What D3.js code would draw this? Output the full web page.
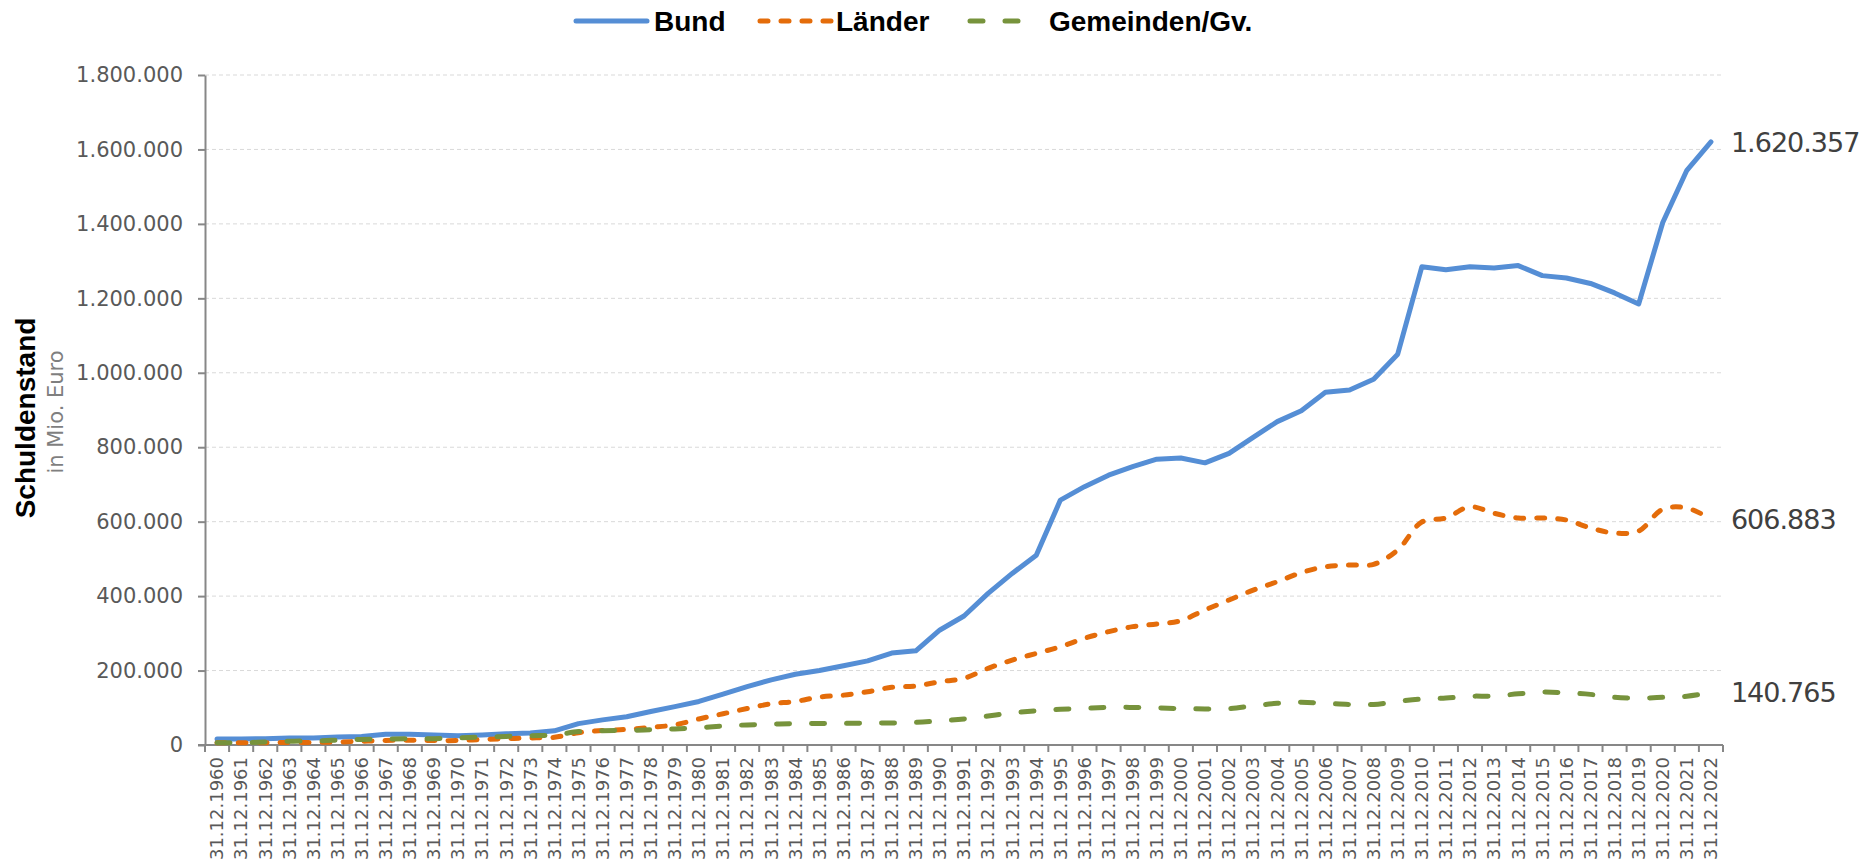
<!DOCTYPE html>
<html>
<head>
<meta charset="utf-8">
<script src="https://cdn.jsdelivr.net/npm/d3@7"></script>
<style>
  html, body { margin: 0; padding: 0; background: #fff; }
  svg { display: block; }
</style>
</head>
<body>
<svg id="chart"></svg>
<script>
  // Schuldenstand in Mio. Euro, jeweils zum 31.12.
  const categories = [
    '31.12.1960', '31.12.1961', '31.12.1962', '31.12.1963', '31.12.1964', '31.12.1965', '31.12.1966', '31.12.1967', '31.12.1968', '31.12.1969',
    '31.12.1970', '31.12.1971', '31.12.1972', '31.12.1973', '31.12.1974', '31.12.1975', '31.12.1976', '31.12.1977', '31.12.1978', '31.12.1979',
    '31.12.1980', '31.12.1981', '31.12.1982', '31.12.1983', '31.12.1984', '31.12.1985', '31.12.1986', '31.12.1987', '31.12.1988', '31.12.1989',
    '31.12.1990', '31.12.1991', '31.12.1992', '31.12.1993', '31.12.1994', '31.12.1995', '31.12.1996', '31.12.1997', '31.12.1998', '31.12.1999',
    '31.12.2000', '31.12.2001', '31.12.2002', '31.12.2003', '31.12.2004', '31.12.2005', '31.12.2006', '31.12.2007', '31.12.2008', '31.12.2009',
    '31.12.2010', '31.12.2011', '31.12.2012', '31.12.2013', '31.12.2014', '31.12.2015', '31.12.2016', '31.12.2017', '31.12.2018', '31.12.2019',
    '31.12.2020', '31.12.2021', '31.12.2022'
  ]

  const bund = [
    16000, 16000, 17000, 19000, 19000, 21500, 23000, 29000, 29000, 27000,
    25000, 27000, 30000, 32000, 38000, 57500, 67500, 76000, 90000, 103000,
    117000, 136600, 157000, 175000, 190000, 200000, 213000, 226000, 247000, 253000,
    309000, 346600, 407500, 461000, 510000, 658000, 694000, 725000, 748000, 768000,
    771000, 758000, 783600, 826600, 868700, 898000, 947500, 953700, 982500, 1050000,
    1284700, 1277000, 1284700, 1281500, 1288000, 1261000, 1254600, 1240000, 1214600, 1185000,
    1403700, 1544000, 1620357
  ]

  const laender = [
    6000, 6000, 6000, 7000, 7000, 8000, 10000, 12000, 13000, 12000,
    12000, 15000, 17000, 19000, 20600, 33000, 39000, 42000, 47500, 54000,
    70000, 84000, 98000, 111000, 117000, 129000, 134000, 143000, 155000, 158500,
    170000, 179000, 206000, 228000, 246000, 264000, 286600, 304500, 318000, 325000,
    334000, 362700, 389600, 416000, 438700, 463000, 479000, 483600, 485500, 524000,
    599000, 610000, 640000, 622500, 610000, 610000, 604500, 583000, 569500, 575000,
    633500, 636700, 606883
  ]

  const gemeinden = [
    6000, 6000, 8000, 10000, 11000, 13000, 15000, 16000, 17000, 17000,
    19000, 21500, 23000, 25000, 27000, 36000, 38500, 39000, 41000, 43000,
    46600, 51000, 54000, 56000, 57500, 57500, 58000, 59000, 59000, 61000,
    65000, 70000, 78000, 86000, 92000, 96000, 98500, 101000, 101000, 100000,
    97600, 97000, 97600, 105000, 112000, 114600, 112000, 109000, 109000, 117000,
    123600, 126000, 131000, 131500, 137500, 142000, 140000, 136000, 128000, 126000,
    128000, 131000, 140765
  ]

  const yTicks = [0, 200000, 400000, 600000, 800000, 1000000, 1200000, 1400000, 1600000, 1800000]

  const series = [
    { name: 'Bund', values: bund, color: '#558ed5', dash: null, curve: d3.curveLinear },
    { name: 'Länder', values: laender, color: '#e46c0a', dash: '8,13', curve: d3.curveCatmullRom },
    { name: 'Gemeinden/Gv.', values: gemeinden, color: '#77933c', dash: '13,22', curve: d3.curveCatmullRom }
  ]

  const width = 1872
  const height = 866
  const margin = { top: 75, right: 149, bottom: 121, left: 205 }

  const de = d3.formatLocale({ decimal: ',', thousands: '.', grouping: [3], currency: ['', ' €'] })
  const fmt = de.format(',d')

  const svg = d3.select('#chart')
    .attr('width', width)
    .attr('height', height)
    .attr('viewBox', [0, 0, width, height])

  const x = d3.scaleBand()
    .domain(categories)
    .range([margin.left, width - margin.right])
    .padding(0)

  const y = d3.scaleLinear()
    .domain([0, 1800000])
    .range([height - margin.bottom, margin.top])

  // grid
  svg.append('g')
    .selectAll('line')
    .data(yTicks.filter(d => d > 0))
    .join('line')
      .attr('x1', margin.left)
      .attr('x2', width - margin.right)
      .attr('y1', d => y(d))
      .attr('y2', d => y(d))
      .attr('stroke', '#d9d9d9')
      .attr('stroke-width', 1)
      .attr('stroke-dasharray', '4,3')

  // y axis
  const yAxis = svg.append('g')
    .attr('transform', `translate(${margin.left},0)`)
    .call(d3.axisLeft(y).tickValues(yTicks).tickFormat(fmt).tickSize(7).tickSizeOuter(0))
  yAxis.select('.domain').attr('stroke', '#878787').attr('stroke-width', 2)
  yAxis.selectAll('.tick line').attr('stroke', '#878787').attr('stroke-width', 2)
  yAxis.selectAll('.tick text')
    .attr('x', -22)
    .attr('fill', '#595959')
    .style('font', '21px "DejaVu Sans", sans-serif')

  // x axis: ticks between the categories
  const xAxis = svg.append('g')
    .attr('transform', `translate(0,${height - margin.bottom})`)
  xAxis.append('line')
    .attr('x1', margin.left - 7)
    .attr('x2', width - margin.right)
    .attr('stroke', '#878787')
    .attr('stroke-width', 2)
  xAxis.selectAll('.tk')
    .data(categories.concat(['end']))
    .join('line')
      .attr('class', 'tk')
      .attr('x1', (d, i) => i < categories.length ? x(d) : x.range()[1])
      .attr('x2', (d, i) => i < categories.length ? x(d) : x.range()[1])
      .attr('y1', 0)
      .attr('y2', 7)
      .attr('stroke', '#878787')
      .attr('stroke-width', 2)
  xAxis.selectAll('text')
    .data(categories)
    .join('text')
      .attr('transform', d => `translate(${x(d) + x.bandwidth() / 2},12) rotate(-90)`)
      .attr('text-anchor', 'end')
      .attr('dy', '0.35em')
      .attr('fill', '#595959')
      .style('font', '18px "DejaVu Sans", sans-serif')
      .text(d => d)

  // lines
  const cx = i => x(categories[i]) + x.bandwidth() / 2

  series.forEach(s => {
    const line = d3.line()
      .x((d, i) => cx(i))
      .y(d => y(d))
      .curve(s.curve)
    svg.append('path')
      .datum(s.values)
      .attr('fill', 'none')
      .attr('stroke', s.color)
      .attr('stroke-width', 5)
      .attr('stroke-linecap', 'round')
      .attr('stroke-linejoin', 'round')
      .attr('stroke-dasharray', s.dash)
      .attr('d', line)

    const last = s.values.length - 1
    svg.append('text')
      .attr('x', cx(last) + 20)
      .attr('y', y(s.values[last]))
      .attr('dy', '0.36em')
      .attr('fill', '#404040')
      .style('font', '27px "DejaVu Sans", sans-serif')
      .style('letter-spacing', '-1px')
      .text(fmt(s.values[last]))
  })

  // legend
  const legendPos = [
    { x1: 576, x2: 647, tx: 654 },
    { x1: 760, x2: 831, tx: 836 },
    { x1: 970, x2: 1025, tx: 1049 }
  ]
  const legend = svg.append('g').attr('transform', 'translate(0,21)')
  series.forEach((s, i) => {
    const p = legendPos[i]
    legend.append('line')
      .attr('x1', p.x1)
      .attr('x2', p.x2)
      .attr('stroke', s.color)
      .attr('stroke-width', 5)
      .attr('stroke-linecap', 'round')
      .attr('stroke-dasharray', s.dash)
    legend.append('text')
      .attr('x', p.tx)
      .attr('dy', '0.36em')
      .attr('fill', '#000')
      .style('font', 'bold 28px "Liberation Sans", Arial, sans-serif')
      .text(s.name)
  })

  // y title
  svg.append('text')
    .attr('transform', 'translate(35,418) rotate(-90)')
    .attr('text-anchor', 'middle')
    .attr('fill', '#000')
    .style('font', 'bold 28px "Liberation Sans", Arial, sans-serif')
    .text('Schuldenstand')
  svg.append('text')
    .attr('transform', 'translate(63,412) rotate(-90)')
    .attr('text-anchor', 'middle')
    .attr('fill', '#7f7f7f')
    .style('font', '21px "DejaVu Sans", sans-serif')
    .text('in Mio. Euro')
</script>
</body>
</html>
